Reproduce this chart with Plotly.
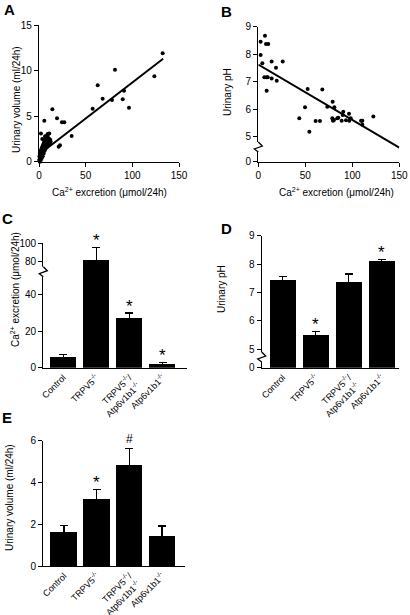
import plotly.graph_objects as go

W, H = 410, 615

def px(x):
    return x / W

def py(y):
    return 1 - y / H

# ---------------- data ----------------
# Panel A: urinary volume vs Ca2+ excretion
a_x = [132.5, 123.6, 81.4, 62.9, 68.2, 78.2, 89.7, 91.1, 96.4, 57.5, 14.3, 19.3, 24.6, 27.1, 5.7,
       35.0, 22.5, 21.1, 2.1, 9.3, 11.0,
       0.3, 0.5, 0.8, 1.0, 1.2, 1.5, 1.8, 2.0, 2.2, 2.5, 2.8, 3.0, 3.3, 3.5, 3.8, 4.0, 4.2, 4.5, 4.8,
       5.0, 5.3, 5.5, 5.8, 6.0, 6.3, 6.5, 6.8, 7.0, 7.3, 7.5, 7.8, 8.0, 8.3, 8.5, 8.8, 9.0, 9.5, 10.0,
       10.5, 11.0, 11.5, 12.0, 12.5, 1.0, 2.0, 3.0, 4.0, 5.0, 6.0, 7.0, 8.0, 9.0, 10.0, 3.5, 6.5]
a_y = [11.9, 9.37, 10.1, 8.38, 6.9, 6.77, 6.85, 7.79, 5.92, 5.81, 5.75, 4.76, 4.32, 4.32, 4.5,
       2.82, 1.8, 1.65, 3.1, 3.04, 3.1,
       0.2, 0.6, 0.3, 0.9, 0.5, 1.1, 0.4, 0.8, 1.3, 0.6, 1.0, 1.5, 0.8, 1.2, 1.7, 0.9, 1.4, 1.9, 1.1,
       1.6, 2.1, 1.3, 1.8, 2.3, 1.5, 2.0, 2.5, 1.7, 2.2, 2.6, 1.9, 2.4, 2.8, 2.1, 2.5, 2.9, 2.3, 2.6,
       2.2, 2.5, 2.0, 2.4, 2.2, 0.0, 0.2, 0.4, 0.6, 0.9, 1.2, 1.4, 1.6, 1.9, 1.8, 2.5, 2.8]
a_fit_x = [0, 133]
a_fit_y = [0.8, 11.3]

# Panel B: urinary pH vs Ca2+ excretion
b_x = [2.5, 7.1, 8.2, 10.6, 2.5, 4.3, 14.2, 26.0, 18.8, 6.4, 8.9, 10.0, 14.2, 19.6, 8.9, 52.5, 68.1,
       49.7, 43.6, 54.3, 61.0, 65.6, 73.4, 79.1, 80.9, 78.7, 79.5, 80.5, 84.0, 90.4, 89.8, 88.7, 96.5,
       96.8, 109.3, 110.7, 110.7, 122.4, 151.5, 85.1, 93.3, 98.3]
b_y = [8.45, 8.67, 8.37, 8.37, 7.97, 7.67, 7.73, 7.73, 7.51, 7.16, 7.16, 7.16, 7.12, 7.03, 6.67, 6.73,
       6.72, 6.07, 5.67, 5.18, 5.57, 5.57, 6.09, 6.27, 6.07, 5.67, 5.58, 5.61, 5.67, 5.91, 5.79, 5.58,
       5.83, 5.58, 5.58, 5.58, 5.43, 5.73, 5.73, 5.69, 5.60, 5.67]
b_fit_x = [0, 150]
b_fit_y = [7.62, 4.6]

# Bar panels
groups = ["Control", "TRPV5<sup>-/-</sup>", "TRPV5<sup>-/-</sup>/<br>Atp6v1b1<sup>-/-</sup>",
          "Atp6v1b1<sup>-/-</sup>"]
pos = [0, 1, 2, 3]
c_mean = [5.9, 81.5, 26.9, 1.9]
c_err = [1.4, 14.0, 2.9, 1.1]
d_mean = [7.45, 5.5, 7.38, 8.1]
d_err = [0.1, 0.12, 0.27, 0.06]
d_sig = ["", "*", "", "*"]
e_mean = [1.64, 3.24, 4.87, 1.45]
e_err = [0.29, 0.44, 0.75, 0.46]
e_sig = ["", "*", "#", ""]

FONT = "Liberation Sans, Arial, sans-serif"
TICKF = dict(family=FONT, size=10, color="black")

fig = go.Figure()

# ---- A ----
fig.add_trace(go.Scatter(x=a_x, y=a_y, mode="markers", marker=dict(color="black", size=4),
                         cliponaxis=False, xaxis="x", yaxis="y"))
fig.add_trace(go.Scatter(x=a_fit_x, y=a_fit_y, mode="lines", line=dict(color="black", width=2),
                         xaxis="x", yaxis="y"))
# ---- B ----
fig.add_trace(go.Scatter(x=b_x, y=b_y, mode="markers", marker=dict(color="black", size=4),
                         cliponaxis=False, xaxis="x2", yaxis="y2"))
fig.add_trace(go.Scatter(x=b_fit_x, y=b_fit_y, mode="lines", line=dict(color="black", width=2),
                         cliponaxis=False, xaxis="x2", yaxis="y2"))

def bars(mean, err, xa, ya, width):
    return go.Bar(x=pos, y=mean, width=width, marker=dict(color="black", line=dict(width=0)),
                  error_y=dict(type="data", array=err, color="black", thickness=1.3, width=4),
                  xaxis=xa, yaxis=ya)

# ---- C (broken axis: lower y3, upper y4) ----
fig.add_trace(bars(c_mean, c_err, "x3", "y3", 0.8))
fig.add_trace(bars(c_mean, c_err, "x3", "y4", 0.8))
# ---- D ----
fig.add_trace(bars(d_mean, d_err, "x4", "y5", 0.77))
# ---- E ----
fig.add_trace(bars(e_mean, e_err, "x5", "y6", 0.81))

axbase = dict(showline=True, linecolor="black", linewidth=1.4, showgrid=False, zeroline=False,
              ticks="outside", ticklen=4, tickwidth=1.4, tickcolor="black", tickfont=TICKF,
              fixedrange=True, automargin=False)
catbase = dict(axbase, ticks="", tickvals=pos, ticktext=groups, tickangle=-45,
               tickfont=dict(family=FONT, size=9, color="black"))

fig.update_layout(
    width=W, height=H, autosize=False, margin=dict(l=0, r=0, t=0, b=0, pad=0),
    paper_bgcolor="white", plot_bgcolor="rgba(0,0,0,0)", showlegend=False, bargap=0,
    xaxis=dict(axbase, domain=[px(39), px(179)], range=[0, 150], tickvals=[0, 50, 100, 150], anchor="y"),
    yaxis=dict(axbase, domain=[py(161.7), py(25)], range=[0, 15], tickvals=[0, 5, 10, 15], anchor="x"),
    xaxis2=dict(axbase, domain=[px(258.3), px(399.3)], range=[0, 150], tickvals=[0, 50, 100, 150],
                anchor="y2"),
    yaxis2=dict(axbase, domain=[py(161.7), py(26.7)], range=[4.09, 9],
                tickvals=[4.09, 5, 6, 7, 8, 9], ticktext=["0", "5", "6", "7", "8", "9"], anchor="x2"),
    xaxis3=dict(catbase, domain=[px(43.3), px(186.7)], range=[-0.6, 3.73], anchor="y3"),
    yaxis3=dict(axbase, domain=[py(367.7), py(271.2)], range=[0, 52.6], tickvals=[0, 20, 40],
                anchor="x3"),
    yaxis4=dict(axbase, domain=[py(272.2), py(243.3)], range=[68.6, 100], tickvals=[80, 100],
                anchor="x3"),
    xaxis4=dict(catbase, domain=[px(261.7), px(399)], range=[-0.64, 3.52], anchor="y5"),
    yaxis5=dict(axbase, domain=[py(367.7), py(235.7)], range=[4.34, 9],
                tickvals=[4.34, 5, 6, 7, 8, 9], ticktext=["0", "5", "6", "7", "8", "9"], anchor="x4"),
    xaxis5=dict(catbase, domain=[px(43.3), px(185)], range=[-0.63, 3.7], anchor="y6"),
    yaxis6=dict(axbase, domain=[py(566), py(440.7)], range=[0, 6], tickvals=[0, 2, 4, 6],
                anchor="x5"),
)

ann = []
CM = dict(xanchor="center", yanchor="middle", showarrow=False)
# panel letters
for t, x, y in [("A", 9, 10), ("B", 226, 11), ("C", 7, 218), ("D", 226, 228), ("E", 7, 417)]:
    ann.append(dict(CM, text=f"<b>{t}</b>", x=px(x), y=py(y), xref="paper", yref="paper",
                    font=dict(family=FONT, size=15, color="black")))
TITLEF = dict(family=FONT, size=10, color="black")
ca_title = "Ca<sup>2+</sup> excretion (\u03bcmol/24h)"
for t, x, y in [("Urinary volume (ml/24h)", 16, 100), ("Urinary pH", 227, 92),
                (ca_title, 15, 290), ("Urinary pH", 221, 289),
                ("Urinary volume (ml/24h)", 9, 498)]:
    ann.append(dict(CM, text=t, x=px(x), y=py(y), xref="paper", yref="paper", textangle=-90,
                    font=TITLEF))
for x, y in [(109, 191.7), (336, 191.7)]:
    ann.append(dict(CM, text=ca_title, x=px(x), y=py(y), xref="paper", yref="paper", font=TITLEF))

def sig_ann(sig, mean, err, xa, ya):
    for i, s in enumerate(sig):
        if s:
            ann.append(dict(text=s, x=pos[i], y=mean[i] + err[i], xref=xa, yref=ya,
                            xanchor="center", yanchor="bottom", showarrow=False,
                            yshift=-5 if s == "*" else 1,
                            font=dict(family=FONT, size=17 if s == "*" else 12, color="black")))

sig_ann(["", "*", "", ""], c_mean, c_err, "x3", "y4")
sig_ann(["", "", "*", "*"], c_mean, c_err, "x3", "y3")
sig_ann(d_sig, d_mean, d_err, "x4", "y5")
sig_ann(e_sig, e_mean, e_err, "x5", "y6")
fig.update_layout(annotations=ann)

# axis break marks
shapes = []
def brk(x, y):
    shapes.append(dict(type="line", xref="paper", yref="paper", x0=px(x), x1=px(x),
                       y0=py(y - 5), y1=py(y + 5), line=dict(color="white", width=4), layer="above"))
    path = (f"M {px(x)} {py(y-5)} L {px(x+4)} {py(y-1)} L {px(x-4)} {py(y+2)} "
            f"L {px(x)} {py(y+5)}")
    shapes.append(dict(type="path", xref="paper", yref="paper", path=path,
                       line=dict(color="black", width=1.3), layer="above"))

brk(258.3, 147)
brk(43.3, 271.7)
brk(261.7, 357)
fig.update_layout(shapes=shapes)

fig.write_html("out.html", config={"displayModeBar": False},
               post_script="document.body.style.margin='0';document.body.style.overflow='hidden';")
